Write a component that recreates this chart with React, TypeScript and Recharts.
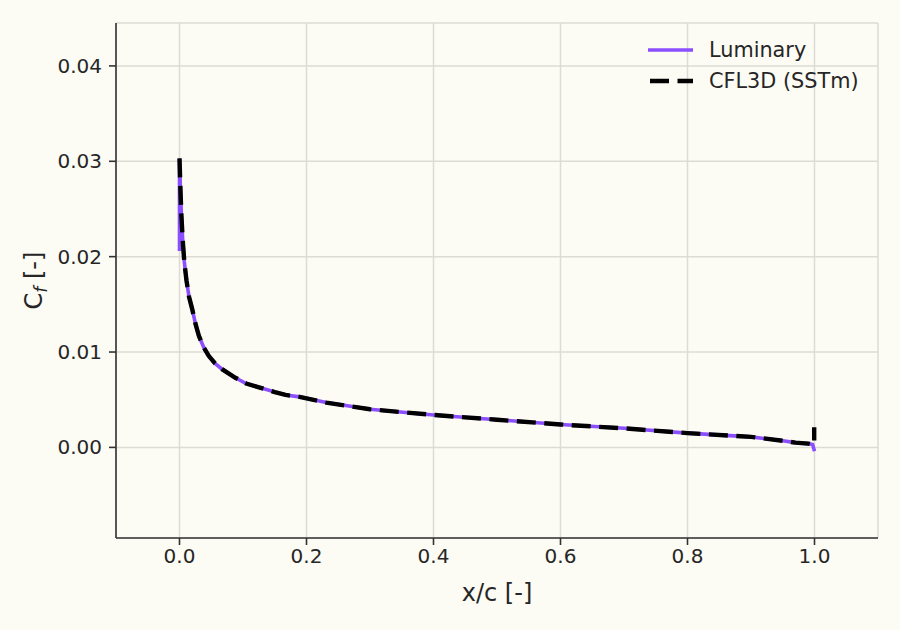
import React from "react";
import {
  LineChart,
  Line,
  XAxis,
  YAxis,
  CartesianGrid,
  Legend,
} from "recharts";

// Skin friction along the chord
const sharedX = [
  0.0, 0.0015, 0.003, 0.005, 0.0075, 0.011, 0.015, 0.02, 0.025, 0.0305, 0.038,
  0.046, 0.056, 0.067, 0.088, 0.105, 0.125, 0.15, 0.167, 0.189, 0.231, 0.3,
  0.4, 0.5, 0.6, 0.7, 0.8, 0.9, 0.95, 0.97, 0.99, 0.997,
];
const sharedCf = [
  0.0303, 0.027, 0.0243, 0.0218, 0.0195, 0.0175, 0.0158, 0.0145, 0.013,
  0.0117, 0.0105, 0.0096, 0.0088, 0.0082, 0.0073, 0.0067, 0.0063, 0.0058,
  0.0055, 0.0053, 0.0047, 0.004, 0.0034, 0.0029, 0.0024, 0.002, 0.0015,
  0.0011, 0.0007, 0.0005, 0.0004, 0.0003,
];

// leading edge start of Luminary (lower surface point at x=0)
const luminaryHeadX = [0.0];
const luminaryHeadCf = [0.0206];
// trailing edge ends
const luminaryTailX = [1.0];
const luminaryTailCf = [-0.0004];
const cfl3dTailX = [0.9995, 0.9995];
const cfl3dTailCf = [0.0003, 0.0021];

const xTicks = [0, 0.2, 0.4, 0.6, 0.8, 1.0];
const yTicks = [0, 0.01, 0.02, 0.03, 0.04];

const seriesNames = ["Luminary", "CFL3D (SSTm)"];
const PURPLE = "#8c4fff";
const BLACK = "#000000";
const TEXT = "#262626";
const FONT = "'DejaVu Sans', sans-serif";

const zipPoints = (xs: number[], ys: number[]) =>
  xs.map((x, i) => ({ x, cf: ys[i] }));

const luminaryData = [
  ...zipPoints(luminaryHeadX, luminaryHeadCf),
  ...zipPoints(sharedX, sharedCf),
  ...zipPoints(luminaryTailX, luminaryTailCf),
];
const cfl3dData = [
  ...zipPoints(sharedX, sharedCf),
  ...zipPoints(cfl3dTailX, cfl3dTailCf),
];

function YLabel({ viewBox }: any) {
  const cy = viewBox.y + viewBox.height / 2;
  const x = 42;
  return (
    <text
      x={x}
      y={cy}
      transform={`rotate(-90, ${x}, ${cy})`}
      textAnchor="middle"
      fontSize={24}
      fill={TEXT}
      fontFamily={FONT}
    >
      C
      <tspan dy={5} fontSize={17} fontStyle="italic">
        f
      </tspan>
      <tspan dy={-5}> [-]</tspan>
    </text>
  );
}

function XLabel({ viewBox }: any) {
  const cx = viewBox.x + viewBox.width / 2;
  return (
    <text
      x={cx}
      y={601}
      textAnchor="middle"
      fontSize={24}
      fill={TEXT}
      fontFamily={FONT}
    >
      x/c [-]
    </text>
  );
}

function LegendBox() {
  return (
    <svg width={240} height={70} style={{ display: "block" }}>
      <line x1={8} x2={53} y1={20} y2={20} stroke={PURPLE} strokeWidth={3.6} />
      <text x={69} y={20} dy="0.35em" fontSize={20.8} fill={TEXT} fontFamily={FONT}>
        {seriesNames[0]}
      </text>
      <line
        x1={10}
        x2={53}
        y1={51}
        y2={51}
        stroke={BLACK}
        strokeWidth={4.4}
        strokeDasharray="19 8.5"
      />
      <text x={69} y={51} dy="0.35em" fontSize={20.8} fill={TEXT} fontFamily={FONT}>
        {seriesNames[1]}
      </text>
    </svg>
  );
}

export default function App() {
  return (
    <div
      style={{
        position: "absolute",
        left: 0,
        top: 0,
        width: 900,
        height: 630,
        background: "#fcfbf4",
        fontFamily: FONT,
      }}
    >
      <LineChart
        width={900}
        height={630}
        margin={{ top: 23, right: 22, bottom: 0, left: 0 }}
      >
        <CartesianGrid stroke="#dcdcd5" strokeWidth={1.5} />
        <XAxis
          dataKey="x"
          type="number"
          domain={[-0.1, 1.1]}
          ticks={xTicks}
          interval={0}
          allowDataOverflow
          height={92}
          tickFormatter={(v: number) => v.toFixed(1)}
          tick={{ fontSize: 20, fill: TEXT, fontFamily: FONT }}
          tickSize={7}
          tickMargin={4}
          axisLine={{ stroke: "#333333", strokeWidth: 1.6 }}
          tickLine={{ stroke: "#333333", strokeWidth: 1.6 }}
          label={<XLabel />}
        />
        <YAxis
          dataKey="cf"
          type="number"
          domain={[-0.0095, 0.0445]}
          ticks={yTicks}
          interval={0}
          allowDataOverflow
          width={116}
          tickFormatter={(v: number) => v.toFixed(2)}
          tick={{ fontSize: 20, fill: TEXT, fontFamily: FONT }}
          tickSize={7}
          tickMargin={7}
          axisLine={{ stroke: "#333333", strokeWidth: 1.6 }}
          tickLine={{ stroke: "#333333", strokeWidth: 1.6 }}
          label={<YLabel />}
        />
        {/* vertical + centered so no space is reserved; placed by wrapperStyle */}
        <Legend
          layout="vertical"
          verticalAlign="middle"
          align="center"
          wrapperStyle={{ top: 30, left: 640, width: 240, height: 70 }}
          content={() => <LegendBox />}
        />
        <Line
          data={luminaryData}
          dataKey="cf"
          name={seriesNames[0]}
          type="linear"
          stroke={PURPLE}
          strokeWidth={3.6}
          dot={false}
          activeDot={false}
          isAnimationActive={false}
        />
        <Line
          data={cfl3dData}
          dataKey="cf"
          name={seriesNames[1]}
          type="linear"
          stroke={BLACK}
          strokeWidth={4.4}
          strokeDasharray="19 8.5"
          dot={false}
          activeDot={false}
          isAnimationActive={false}
        />
      </LineChart>
    </div>
  );
}
